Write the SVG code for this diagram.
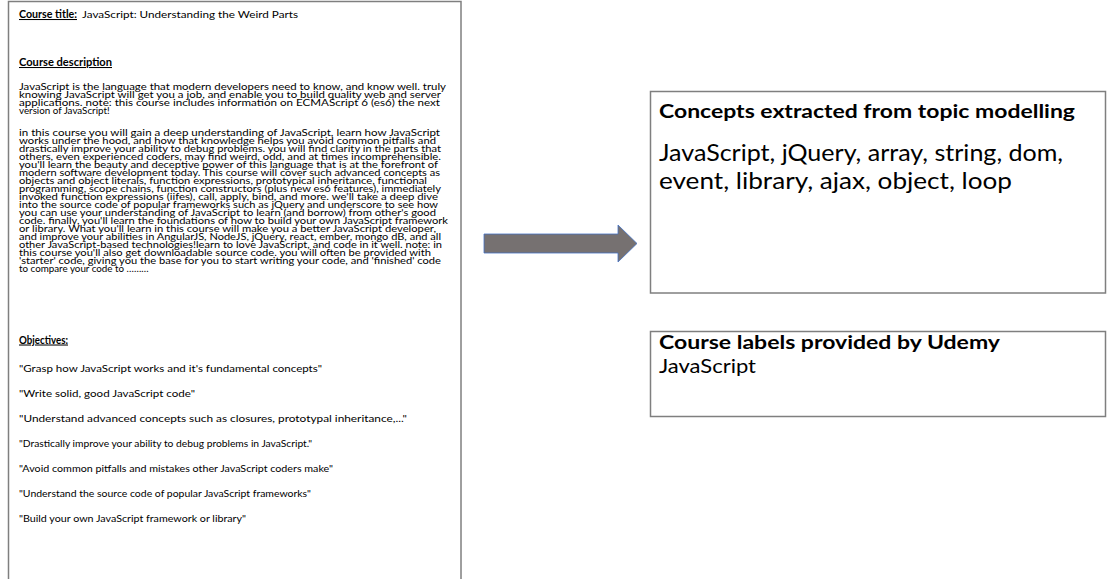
<svg xmlns="http://www.w3.org/2000/svg" width="1108" height="579" viewBox="0 0 1108 579">
<style>
.box{fill:#fff;stroke:#7f7f7f;stroke-width:1.5}
.t{font-family:Lato,"Open Sans","Liberation Sans",sans-serif;fill:#000}
.s{font-size:9.8px}
.o{font-size:10.4px}
.b{font-weight:bold}
.u{text-decoration:underline}
.pre{white-space:pre}
.h{font-size:19px;font-weight:bold}
.big{font-size:23px}
.mid{font-size:20px}
</style>
<rect width="1108" height="579" fill="#fff"/>
<g id="course">
<rect class="box" x="8.5" y="1.5" width="452.5" height="590"/>
<text class="t o b u" x="19" y="18" textLength="58" lengthAdjust="spacingAndGlyphs">Course title:</text>
<text class="t o" x="82" y="18" textLength="216" lengthAdjust="spacingAndGlyphs">JavaScript: Understanding the Weird Parts</text>
<text class="t o b u" x="19" y="66" textLength="93" lengthAdjust="spacingAndGlyphs">Course description</text>
<g class="t s pre">
<text x="19" y="90" textLength="427" lengthAdjust="spacingAndGlyphs">JavaScript is the language that modern developers need to know, and know well. truly</text>
<text x="19" y="98" textLength="422" lengthAdjust="spacingAndGlyphs">knowing JavaScript will get you a job, and enable you to build quality web and server</text>
<text x="19" y="106" textLength="421" lengthAdjust="spacingAndGlyphs">applications.    note: this course includes information on ECMAScript 6 (es6) the next</text>
<text x="19" y="114">version of JavaScript!</text>
<text x="19" y="136" textLength="421" lengthAdjust="spacingAndGlyphs">in this course you will gain a deep understanding of JavaScript, learn how JavaScript</text>
<text x="19" y="144" textLength="417" lengthAdjust="spacingAndGlyphs">works under the hood, and how that knowledge helps you avoid common pitfalls and</text>
<text x="19" y="152" textLength="422" lengthAdjust="spacingAndGlyphs">drastically improve your ability to debug problems. you will find clarity in the parts that</text>
<text x="19" y="160" textLength="422" lengthAdjust="spacingAndGlyphs">others, even experienced coders, may find weird, odd, and at times incomprehensible.</text>
<text x="19" y="168" textLength="419" lengthAdjust="spacingAndGlyphs">you'll learn the beauty and deceptive power of this language that is at the forefront of</text>
<text x="19" y="176" textLength="421" lengthAdjust="spacingAndGlyphs">modern software development today. This course will cover such advanced concepts as</text>
<text x="19" y="184" textLength="408" lengthAdjust="spacingAndGlyphs">objects and object literals, function expressions, prototypical inheritance, functional</text>
<text x="19" y="192" textLength="422" lengthAdjust="spacingAndGlyphs">programming, scope chains, function constructors (plus new es6 features), immediately</text>
<text x="19" y="200" textLength="419" lengthAdjust="spacingAndGlyphs">invoked function expressions (iifes), call, apply, bind, and more. we'll take a deep dive</text>
<text x="19" y="208" textLength="419" lengthAdjust="spacingAndGlyphs">into the source code of popular frameworks such as jQuery and underscore to see how</text>
<text x="19" y="216" textLength="417" lengthAdjust="spacingAndGlyphs">you can use your understanding of JavaScript to learn (and borrow) from other's good</text>
<text x="19" y="224" textLength="429" lengthAdjust="spacingAndGlyphs">code.  finally, you'll learn the foundations of how to build your own JavaScript framework</text>
<text x="19" y="232" textLength="417" lengthAdjust="spacingAndGlyphs">or library. What you'll learn in this course will make you a better JavaScript developer,</text>
<text x="19" y="240" textLength="422" lengthAdjust="spacingAndGlyphs">and improve your abilities in AngularJS, NodeJS, jQuery, react, ember, mongo dB, and all</text>
<text x="19" y="248" textLength="423" lengthAdjust="spacingAndGlyphs">other JavaScript-based technologies!learn to love JavaScript, and code in it well.  note: in</text>
<text x="19" y="256" textLength="412" lengthAdjust="spacingAndGlyphs">this course you'll also get downloadable source code. you will often be provided with</text>
<text x="19" y="264" textLength="422" lengthAdjust="spacingAndGlyphs">'starter' code, giving you the base for you to start writing your code, and 'finished' code</text>
<text x="19" y="272">to compare your code to ………</text>
</g>
<text class="t o b u" x="19" y="343.5" textLength="49" lengthAdjust="spacingAndGlyphs">Objectives:</text>
<g class="t o">
<text x="19" y="371.5" textLength="303" lengthAdjust="spacingAndGlyphs">"Grasp how JavaScript works and it's fundamental concepts"</text>
<text x="19" y="396.5" textLength="176" lengthAdjust="spacingAndGlyphs">"Write solid, good JavaScript code"</text>
<text x="19" y="421.5" textLength="388" lengthAdjust="spacingAndGlyphs">"Understand advanced concepts such as closures, prototypal inheritance,..."</text>
<text x="19" y="446.5" textLength="293" lengthAdjust="spacingAndGlyphs">"Drastically improve your ability to debug problems in JavaScript."</text>
<text x="19" y="471.5" textLength="314" lengthAdjust="spacingAndGlyphs">"Avoid common pitfalls and mistakes other JavaScript coders make"</text>
<text x="19" y="496.5" textLength="292" lengthAdjust="spacingAndGlyphs">"Understand the source code of popular JavaScript frameworks"</text>
<text x="19" y="521.5" textLength="227" lengthAdjust="spacingAndGlyphs">"Build your own JavaScript framework or library"</text>
</g>
</g>
<g id="connectors">
<path d="M484,234 L618,234 L618,225 L637,243.5 L618,262 L618,253 L484,253 Z" fill="#767171" stroke="#4472c4" stroke-width="0.8"/>
</g>
<g id="concepts">
<rect class="box" x="650.5" y="91.5" width="455" height="201.5"/>
<text class="t h" x="659" y="118" textLength="416" lengthAdjust="spacingAndGlyphs">Concepts extracted from topic modelling</text>
<text class="t big" x="659" y="161" textLength="404" lengthAdjust="spacingAndGlyphs">JavaScript, jQuery, array, string, dom,</text>
<text class="t big" x="659" y="189" textLength="353" lengthAdjust="spacingAndGlyphs">event, library, ajax, object, loop</text>
</g>
<g id="labels">
<rect class="box" x="650.5" y="331.5" width="455" height="85"/>
<text class="t h" x="659" y="349" textLength="341" lengthAdjust="spacingAndGlyphs">Course labels provided by Udemy</text>
<text class="t mid" x="659" y="373" textLength="97" lengthAdjust="spacingAndGlyphs">JavaScript</text>
</g>
</svg>
